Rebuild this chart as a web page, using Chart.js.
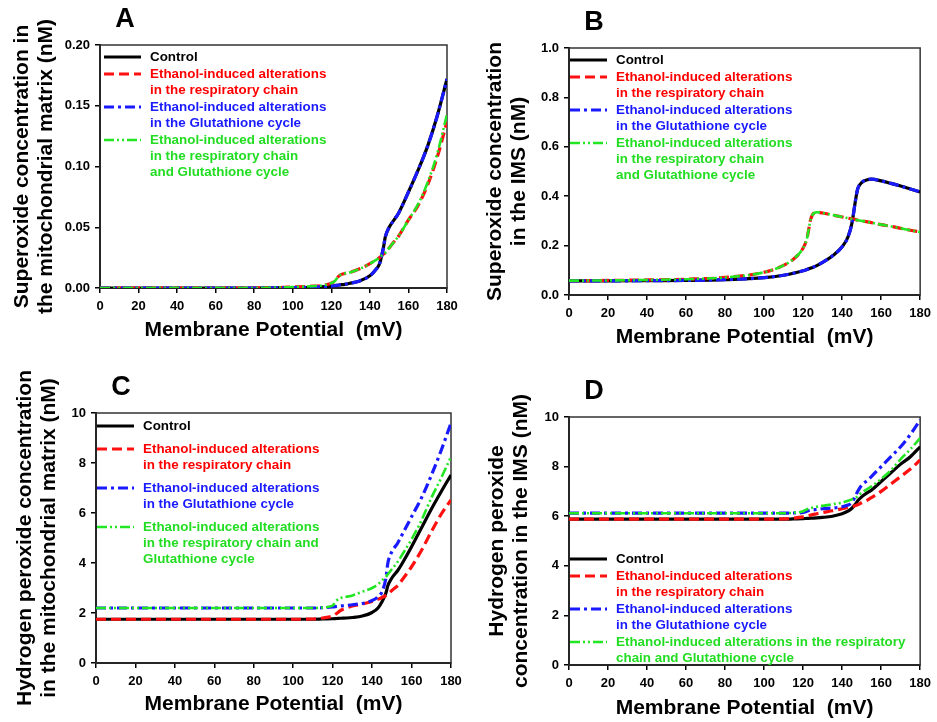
<!DOCTYPE html>
<html>
<head>
<meta charset="utf-8">
<title>ROS vs membrane potential</title>
<script src="https://cdn.jsdelivr.net/npm/chart.js@4.4.1/dist/chart.umd.min.js"></script>
<style>
  body { margin: 0; background: #fff; }
  #wrap { position: relative; width: 937px; height: 722px; }
  canvas { position: absolute; }
</style>
</head>
<body>
<div id="wrap">
  <canvas id="chartA" width="468" height="360" style="left:0;top:0"></canvas>
  <canvas id="chartB" width="469" height="360" style="left:468px;top:0"></canvas>
  <canvas id="chartC" width="468" height="362" style="left:0;top:360px"></canvas>
  <canvas id="chartD" width="469" height="362" style="left:468px;top:360px"></canvas>
</div>
<script>
// membrane potential (mV) sample points, shared by every curve
const mv = [0, 20, 40, 60, 80, 100, 110, 115, 120, 122, 124, 127, 130, 135, 140, 143, 145, 147, 148, 150, 153, 155, 160, 165, 170, 175, 180];
const xTicks = [0, 20, 40, 60, 80, 100, 120, 140, 160, 180];

// A - superoxide, mitochondrial matrix (nM)
const supMatControl = [0, 0, 0, 0, 0, 0.0003, 0.0006, 0.001, 0.0015, 0.002, 0.0025, 0.003, 0.004, 0.006, 0.010, 0.015, 0.020, 0.033, 0.042, 0.050, 0.057, 0.062, 0.079, 0.097, 0.117, 0.142, 0.172];
const supMatResp    = [0, 0, 0, 0, 0, 0.0008, 0.0015, 0.002, 0.004, 0.006, 0.010, 0.012, 0.013, 0.016, 0.020, 0.023, 0.025, 0.028, 0.029, 0.033, 0.039, 0.043, 0.056, 0.068, 0.085, 0.108, 0.137];
const supMatGlut    = [0, 0, 0, 0, 0, 0.0003, 0.0006, 0.001, 0.0015, 0.002, 0.0025, 0.003, 0.004, 0.006, 0.010, 0.015, 0.020, 0.033, 0.042, 0.050, 0.057, 0.062, 0.079, 0.097, 0.117, 0.142, 0.172];
const supMatBoth    = [0, 0, 0, 0, 0, 0.0008, 0.0015, 0.002, 0.004, 0.006, 0.010, 0.012, 0.013, 0.016, 0.020, 0.023, 0.025, 0.028, 0.029, 0.033, 0.039, 0.043, 0.056, 0.069, 0.087, 0.111, 0.143];
const yTicksA = [0, 0.05, 0.10, 0.15, 0.20];

// B - superoxide, IMS (nM)
const supImsControl = [0.057, 0.057, 0.058, 0.059, 0.062, 0.070, 0.080, 0.088, 0.098, 0.103, 0.109, 0.119, 0.132, 0.158, 0.195, 0.235, 0.29, 0.39, 0.43, 0.455, 0.467, 0.469, 0.462, 0.452, 0.441, 0.429, 0.417];
const supImsResp    = [0.058, 0.059, 0.061, 0.064, 0.071, 0.092, 0.12, 0.145, 0.19, 0.23, 0.31, 0.335, 0.332, 0.324, 0.316, 0.311, 0.308, 0.305, 0.303, 0.300, 0.296, 0.293, 0.285, 0.278, 0.270, 0.262, 0.255];
const supImsGlut    = [0.057, 0.057, 0.058, 0.059, 0.062, 0.070, 0.080, 0.088, 0.098, 0.103, 0.109, 0.119, 0.132, 0.158, 0.195, 0.235, 0.29, 0.39, 0.43, 0.455, 0.467, 0.469, 0.462, 0.452, 0.441, 0.429, 0.417];
const supImsBoth    = [0.058, 0.059, 0.061, 0.064, 0.071, 0.092, 0.12, 0.145, 0.19, 0.23, 0.31, 0.335, 0.332, 0.324, 0.316, 0.311, 0.308, 0.305, 0.303, 0.300, 0.296, 0.293, 0.285, 0.278, 0.270, 0.262, 0.255];
const yTicksB = [0, 0.2, 0.4, 0.6, 0.8, 1.0];

// C - hydrogen peroxide, mitochondrial matrix (nM)
const h2o2MatControl = [1.75, 1.75, 1.75, 1.75, 1.75, 1.75, 1.75, 1.76, 1.77, 1.78, 1.79, 1.80, 1.82, 1.88, 2.02, 2.2, 2.45, 2.8, 3.1, 3.4, 3.7, 3.95, 4.65, 5.4, 6.15, 6.85, 7.52];
const h2o2MatResp    = [1.75, 1.75, 1.75, 1.75, 1.75, 1.75, 1.76, 1.8, 1.88, 1.98, 2.1, 2.2, 2.28, 2.36, 2.46, 2.55, 2.62, 2.7, 2.75, 2.9, 3.1, 3.3, 3.85, 4.5, 5.25, 5.95, 6.52];
const h2o2MatGlut    = [2.2, 2.2, 2.2, 2.2, 2.2, 2.2, 2.2, 2.21, 2.24, 2.26, 2.28, 2.3, 2.33, 2.38, 2.5, 2.65, 2.85, 3.4, 4.0, 4.45, 4.8, 5.1, 5.85, 6.6, 7.5, 8.5, 9.6];
const h2o2MatBoth    = [2.2, 2.2, 2.2, 2.2, 2.2, 2.2, 2.2, 2.22, 2.3, 2.5, 2.6, 2.65, 2.7, 2.85, 3.0, 3.15, 3.3, 3.45, 3.55, 3.75, 4.05, 4.3, 4.95, 5.7, 6.6, 7.4, 8.25];
const yTicksC = [0, 2, 4, 6, 8, 10];

// D - hydrogen peroxide, IMS (nM)
const h2o2ImsControl = [5.88, 5.88, 5.88, 5.88, 5.88, 5.88, 5.88, 5.89, 5.9, 5.91, 5.92, 5.93, 5.95, 6.0, 6.1, 6.2, 6.32, 6.5, 6.62, 6.78, 6.95, 7.05, 7.4, 7.75, 8.1, 8.4, 8.8];
const h2o2ImsResp    = [5.88, 5.88, 5.88, 5.88, 5.88, 5.88, 5.89, 5.92, 5.97, 6.0, 6.05, 6.1, 6.15, 6.22, 6.3, 6.35, 6.38, 6.43, 6.46, 6.54, 6.65, 6.75, 7.0, 7.3, 7.6, 7.9, 8.27];
const h2o2ImsGlut    = [6.12, 6.12, 6.12, 6.12, 6.12, 6.12, 6.12, 6.13, 6.15, 6.2, 6.25, 6.27, 6.3, 6.33, 6.38, 6.45, 6.55, 6.85, 7.0, 7.25, 7.45, 7.6, 8.0, 8.4, 8.8, 9.3, 9.88];
const h2o2ImsBoth    = [6.12, 6.12, 6.12, 6.12, 6.12, 6.12, 6.12, 6.14, 6.2, 6.28, 6.33, 6.38, 6.42, 6.48, 6.55, 6.62, 6.68, 6.75, 6.8, 6.95, 7.1, 7.2, 7.5, 7.85, 8.3, 8.7, 9.15];
const yTicksD = [0, 2, 4, 6, 8, 10];

const legendStd = [
  ['Control'],
  ['Ethanol-induced alterations', 'in the respiratory chain'],
  ['Ethanol-induced alterations', 'in the Glutathione cycle'],
  ['Ethanol-induced alterations', 'in the respiratory chain', 'and Glutathione cycle']
];
const legendC = [
  ['Control'],
  ['Ethanol-induced alterations', 'in the respiratory chain'],
  ['Ethanol-induced alterations', 'in the Glutathione cycle'],
  ['Ethanol-induced alterations', 'in the respiratory chain and', 'Glutathione cycle']
];
const legendD = [
  ['Control'],
  ['Ethanol-induced alterations', 'in the respiratory chain'],
  ['Ethanol-induced alterations', 'in the Glutathione cycle'],
  ['Ethanol-induced alterations in the respiratory', 'chain and Glutathione cycle']
];

const FONT = "'Liberation Sans', Arial, Helvetica, sans-serif";

const seriesStyles = [
  { borderColor: '#000000', borderWidth: 3.2, borderDash: [], order: 4, text: '#000000' },
  { borderColor: '#ff1010', borderWidth: 3.2, borderDash: [10, 5], order: 3, text: '#ff0000' },
  { borderColor: '#1a1aff', borderWidth: 3.2, borderDash: [10, 4, 3, 4], order: 2, text: '#1a1aff' },
  { borderColor: '#22e622', borderWidth: 2.6, borderDash: [10, 3, 2, 3, 2, 3], order: 1, text: '#22dd22' }
];

// frame, panel letter and in-plot legend
const panelDecor = {
  id: 'panelDecor',
  beforeDatasetsDraw(chart) {
    const { ctx, chartArea: a } = chart;
    ctx.save();
    ctx.strokeStyle = '#333';
    ctx.lineWidth = 1.5;
    ctx.strokeRect(a.left, a.top, a.right - a.left, a.bottom - a.top);
    ctx.restore();
  },
  afterDatasetsDraw(chart, args, opts) {
    const { ctx, chartArea: a } = chart;
    ctx.save();
    ctx.fillStyle = '#000';
    ctx.font = 'bold 27px ' + FONT;
    ctx.textAlign = 'center';
    ctx.textBaseline = 'middle';
    ctx.fillText(opts.letter, a.left + 25, a.top - 25);

    ctx.font = 'bold 13.4px ' + FONT;
    ctx.textAlign = 'left';
    let y = a.top + opts.legendTop;
    opts.labels.forEach((lines, i) => {
      const st = seriesStyles[i];
      ctx.strokeStyle = st.borderColor;
      ctx.lineWidth = st.borderWidth;
      ctx.setLineDash(st.borderDash);
      ctx.beginPath();
      ctx.moveTo(a.left + opts.legendX, y);
      ctx.lineTo(a.left + opts.legendX + 37, y);
      ctx.stroke();
      ctx.setLineDash([]);
      ctx.fillStyle = st.text;
      lines.forEach((t, k) => ctx.fillText(t, a.left + opts.legendX + 46, y + k * opts.lineH));
      y += lines.length * opts.lineH + opts.gap;
    });
    ctx.restore();
  }
};

function makePanel(id, cfg) {
  const datasets = cfg.series.map((s, i) => ({
    label: cfg.labels[i].join(' '),
    data: mv.map((x, k) => ({ x: x, y: s[k] })),
    borderColor: seriesStyles[i].borderColor,
    borderWidth: seriesStyles[i].borderWidth,
    borderDash: seriesStyles[i].borderDash,
    order: seriesStyles[i].order,
    pointRadius: 0,
    fill: false,
    cubicInterpolationMode: 'monotone'
  }));

  const tickFont = { family: FONT, size: 13, weight: 'bold' };
  const titleFont = { family: FONT, size: 21, weight: 'bold', lineHeight: 1.15 };

  new Chart(document.getElementById(id), {
    type: 'line',
    data: { datasets: datasets },
    options: {
      responsive: false,
      animation: false,
      layout: { padding: { top: cfg.pad[0], right: cfg.pad[1], bottom: cfg.pad[2], left: 0 } },
      plugins: {
        legend: { display: false },
        tooltip: { enabled: false },
        panelDecor: { letter: cfg.letter, labels: cfg.labels, legendTop: cfg.legendTop, legendX: cfg.legendX, lineH: 16, gap: cfg.gap }
      },
      scales: {
        x: {
          type: 'linear', min: 0, max: 180,
          afterBuildTicks: s => { s.ticks = xTicks.map(v => ({ value: v })); },
          afterFit: s => { s.height = cfg.xH; },
          grid: { drawOnChartArea: false, tickLength: 5, color: '#000', lineWidth: 1.5 },
          border: { color: '#000', width: 2 },
          ticks: { font: tickFont, color: '#000', padding: 6, maxRotation: 0, autoSkip: false, callback: v => String(v) },
          title: { display: true, text: 'Membrane Potential  (mV)', font: titleFont, color: '#000', padding: { top: 0, bottom: cfg.xTitlePad } }
        },
        y: {
          type: 'linear', min: cfg.yTicks[0], max: cfg.yTicks[cfg.yTicks.length - 1],
          afterBuildTicks: s => { s.ticks = cfg.yTicks.map(v => ({ value: v })); },
          afterFit: s => { s.width = cfg.yW; },
          grid: { drawOnChartArea: false, tickLength: 5, color: '#000', lineWidth: 1.5 },
          border: { color: '#000', width: 2 },
          ticks: { font: tickFont, color: '#000', padding: 5, autoSkip: false, callback: v => v.toFixed(cfg.dec) },
          title: { display: true, text: cfg.yTitle, font: titleFont, color: '#000', padding: { top: cfg.yTitlePad, bottom: 0 } }
        }
      }
    },
    plugins: [panelDecor]
  });
}

makePanel('chartA', {
  letter: 'A',
  series: [supMatControl, supMatResp, supMatGlut, supMatBoth],
  labels: legendStd, legendTop: 12, legendX: 4, gap: 1,
  yTicks: yTicksA, dec: 2,
  yTitle: ['Superoxide concentration in', 'the mitochondrial matrix (nM)'],
  pad: [45, 21, 12], xH: 60, yW: 100, xTitlePad: 6, yTitlePad: 10
});

makePanel('chartB', {
  letter: 'B',
  series: [supImsControl, supImsResp, supImsGlut, supImsBoth],
  labels: legendStd, legendTop: 12, legendX: 1, gap: 1,
  yTicks: yTicksB, dec: 1,
  yTitle: ['Superoxide concentration', 'in the IMS (nM)'],
  pad: [48, 14, 5], xH: 60, yW: 101, xTitlePad: 6, yTitlePad: 15
});

makePanel('chartC', {
  letter: 'C',
  series: [h2o2MatControl, h2o2MatResp, h2o2MatGlut, h2o2MatBoth],
  labels: legendC, legendTop: 13, legendX: 1, gap: 7,
  yTicks: yTicksC, dec: 0,
  yTitle: ['Hydrogen peroxide concentration', 'in the mitochondrial matrix (nM)'],
  pad: [53, 17, 0], xH: 59, yW: 96, xTitlePad: 6, yTitlePad: 13
});

makePanel('chartD', {
  letter: 'D',
  series: [h2o2ImsControl, h2o2ImsResp, h2o2ImsGlut, h2o2ImsBoth],
  labels: legendD, legendTop: 142, legendX: 1, gap: 1,
  yTicks: yTicksD, dec: 0,
  yTitle: ['Hydrogen peroxide', 'concentration in the IMS (nM)'],
  pad: [57, 13, 0], xH: 57, yW: 101, xTitlePad: 2, yTitlePad: 17
});
</script>
</body>
</html>
